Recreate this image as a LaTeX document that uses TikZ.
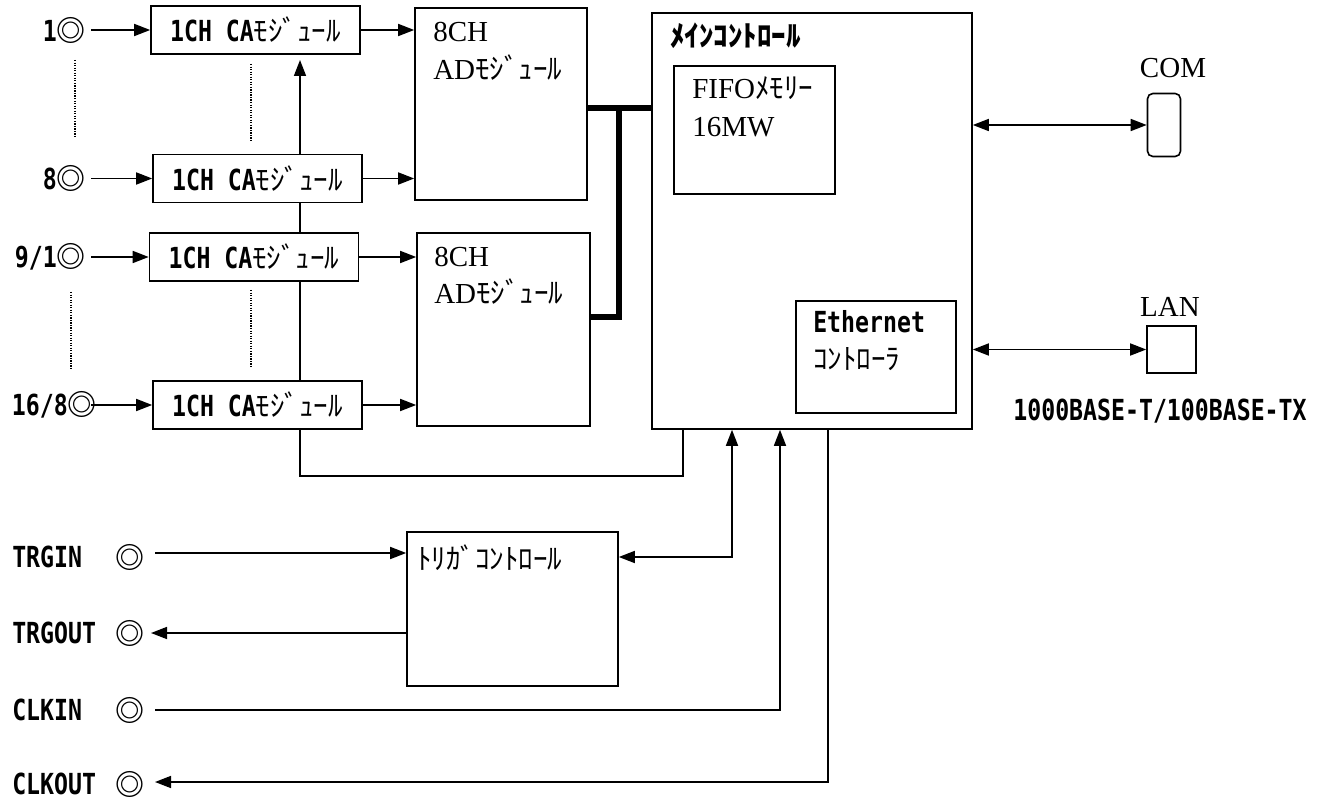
\documentclass[tikz,border=0pt]{standalone}
\usepackage{fontspec}
\usetikzlibrary{arrows.meta}
\newfontfamily\gmfont[FakeStretch=0.8]{DejaVu Sans Mono}
\newfontfamily\jpfont{Noto Sans CJK JP}
\newfontfamily\srfont{Liberation Serif}
\newcommand\gmb{\gmfont\bfseries}
\newcommand\kn[1]{{\jpfont\mdseries #1}}
\newcommand\dc{{\jpfont\bfseries ◎}}
\begin{document}
\begin{tikzpicture}[x=0.75pt,y=-0.75pt,
  txt/.style={inner sep=0pt, font=\fontsize{21.75}{27}\selectfont},
  bx/.style 2 args={draw, line width=1.2pt, fill=white, rectangle,
     minimum width={#1*0.75pt}, minimum height={#2*0.75pt}, inner sep=0pt,
     font=\fontsize{21.75}{27}\selectfont},
  ln/.style={line width=1.2pt},
  tip/.tip={Triangle[length=12pt,width=9pt]},
  arr/.style={ln, -tip},
  darr/.style={ln, tip-tip},
  bus/.style={line width=4pt},
  dots/.style={line width=0.9pt, densely dotted}]
\useasboundingbox (0,0) rectangle (1332,805);

% feedback line (drawn first, boxes cover it)
\coordinate (fbL) at (300,476);
\coordinate (fbR) at (683,476);
\node[bx={320}{416}] (main) at (812,221) {};
\draw[arr, shorten >=4.5pt] (fbR |- main.south) -- (fbR) -- (fbL) -- (fbL |- 0,54);

% CA modules
\node[bx={209}{48}] (ca1) at (255.5,30) {\gmb 1CH CA\kn{ﾓｼﾞｭｰﾙ}};
\node[bx={209}{48}] (ca2) at (257.5,178.5) {\gmb 1CH CA\kn{ﾓｼﾞｭｰﾙ}};
\node[bx={209}{48}] (ca3) at (254,257) {\gmb 1CH CA\kn{ﾓｼﾞｭｰﾙ}};
\node[bx={209}{48}] (ca4) at (257.5,405) {\gmb 1CH CA\kn{ﾓｼﾞｭｰﾙ}};

% input labels
\node[txt, anchor=east] (in1) at (86,30) {\gmb 1\dc};
\node[txt, anchor=east] (in2) at (86,178.5) {\gmb 8\dc};
\node[txt, anchor=east] (in3) at (86,257) {\gmb 9/1\dc};
\node[txt, anchor=east] (in4) at (97,405) {\gmb 16/8\dc};
\coordinate (i1) at (91,30);
\coordinate (i2) at (91,178.5);
\coordinate (i3) at (91,257);
\coordinate (i4) at (91,405);
\draw[arr] (i1) -- (ca1.west);
\draw[arr] (i2) -- (ca2.west);
\draw[arr] (i3) -- (ca3.west);
\draw[arr] (i4) -- (ca4.west);

% dotted ellipsis lines
\draw[dots] (75,60) -- (75,137);
\draw[dots] (251,64) -- (251,142);
\draw[dots] (71,292) -- (71,370);
\draw[dots] (251,290) -- (251,367);

% AD modules
\node[bx={172}{192}] (ad1) at (501,104) {};
\node[bx={173}{193}] (ad2) at (503.5,329.5) {};
\node[txt, anchor=base west] (ad1a) at (433,41.5) {\srfont 8CH};
\node[txt, anchor=base west] (ad1b) at (433,79.5) {\srfont AD\kn{ﾓｼﾞｭｰﾙ}};
\node[txt, anchor=base west] (ad2a) at (434,266.5) {\srfont 8CH};
\node[txt, anchor=base west] (ad2b) at (434,304) {\srfont AD\kn{ﾓｼﾞｭｰﾙ}};

\draw[arr] (ca1.east) -- (ca1.east -| ad1.west);
\draw[arr] (ca2.east) -- (ca2.east -| ad1.west);
\draw[arr] (ca3.east) -- (ca3.east -| ad2.west);
\draw[arr] (ca4.east) -- (ca4.east -| ad2.west);

% bus
\coordinate (b1) at (619,108);
\coordinate (b2) at (619,317);
\draw[bus] (ad1.east |- b1) -- (main.west |- b1);
\draw[bus, line join=miter] (b1) -- (b2) -- (ad2.east |- b2);

% main control contents
\node[txt, anchor=base west] (mtitle) at (670,47) {\jpfont\bfseries ﾒｲﾝｺﾝﾄﾛｰﾙ};
\node[bx={161}{128}] (fifo) at (754.5,130) {};
\node[txt, anchor=base west] (fifoa) at (692,98.5) {\srfont FIFO\kn{ﾒﾓﾘｰ}};
\node[txt, anchor=base west] (fifob) at (692,136.5) {\srfont 16MW};
\node[bx={160}{112}] (eth) at (876,357) {};
\node[txt, anchor=base west] (etha) at (813,333) {\gmb Ethernet};
\node[txt, anchor=base west] (ethb) at (813,370) {\kn{ｺﾝﾄﾛｰﾗ}};

% COM / LAN
\node[draw, line width=1.2pt, rounded corners=4pt, minimum width={33*0.75pt}, minimum height={63*0.75pt}, inner sep=0pt] (com) at (1164,125) {};
\node[txt] (comlbl) at (1173,68) {\srfont COM};
\node[bx={49}{47}] (lan) at (1171.5,349.5) {};
\node[txt] (lanlbl) at (1170,307) {\srfont LAN};
\node[txt, anchor=base] (base) at (1160,421) {\gmb 1000BASE-T/100BASE-TX};
\draw[darr] (main.east |- com) -- (com.west);
\draw[darr] (main.east |- lan) -- (lan.west);

% trigger control
\node[bx={211}{154}] (trig) at (512.5,609) {};
\node[txt, anchor=base west] (trigt) at (417,569) {\kn{ﾄﾘｶﾞｺﾝﾄﾛｰﾙ}};

% bottom labels
\node[txt, anchor=base west] (ltin) at (12,567) {\gmb TRGIN};
\node[txt, anchor=base west] (ltout) at (12,643) {\gmb TRGOUT};
\node[txt, anchor=base west] (lcin) at (12,720) {\gmb CLKIN};
\node[txt, anchor=base west] (lcout) at (12,794) {\gmb CLKOUT};
\node[txt] (stin) at (130,557) {\dc};
\node[txt] (stout) at (130,633) {\dc};
\node[txt] (scin) at (130,710) {\dc};
\node[txt] (scout) at (130,784) {\dc};

\coordinate (tin) at (155,553);
\coordinate (tout) at (151,633);
\coordinate (tgc) at (732,557);
\coordinate (cin) at (155,710);
\coordinate (cinc) at (780,710);
\coordinate (coc) at (828,782);
\coordinate (cout) at (155,782);
\draw[arr] (tin) -- (tin -| trig.west);
\draw[arr] (tout -| trig.west) -- (tout);
\draw[darr] (trig.east |- tgc) -- (tgc) -- (tgc |- main.south);
\draw[arr] (cin) -- (cinc) -- (cinc |- main.south);
\draw[arr] (coc |- main.south) -- (coc) -- (cout);
\end{tikzpicture}
\end{document}
